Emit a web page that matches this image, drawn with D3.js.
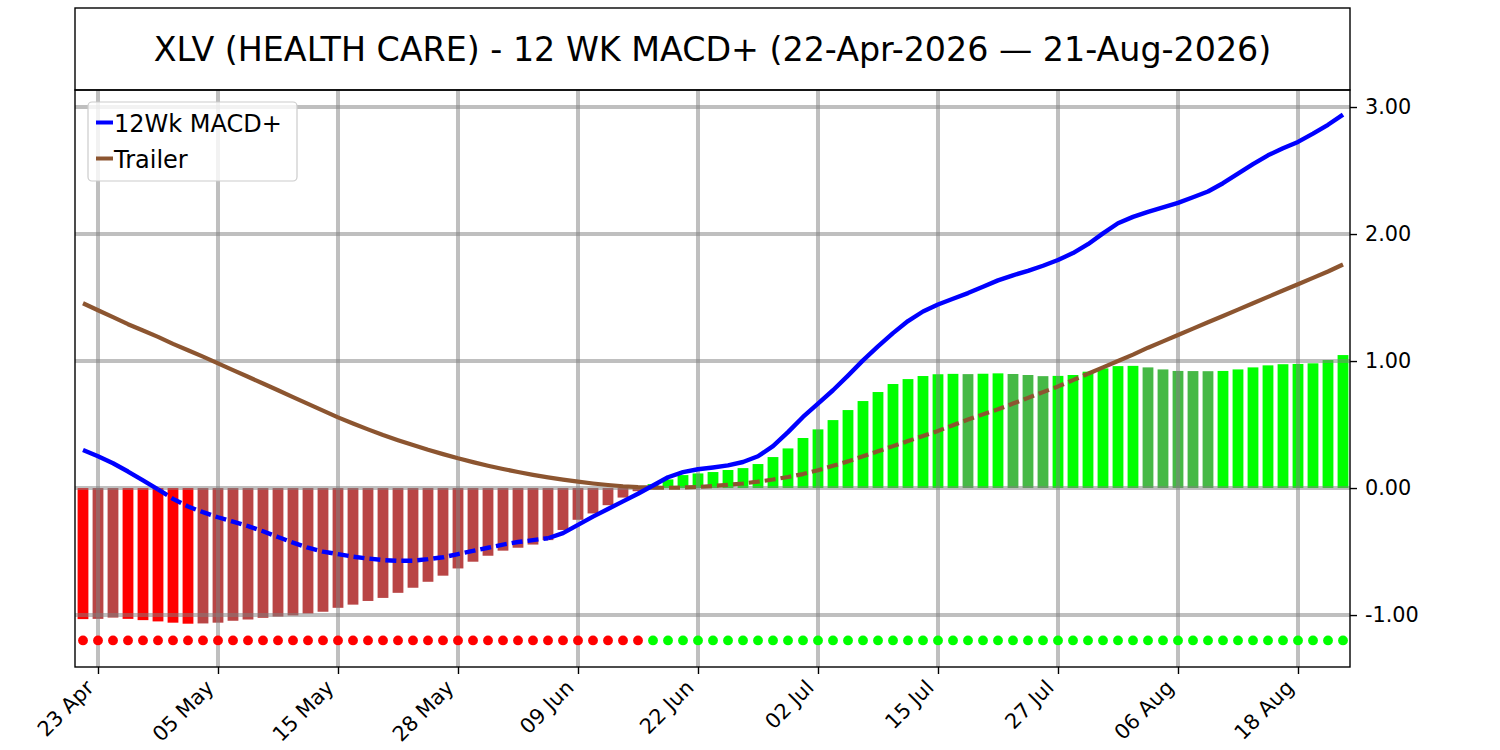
<!DOCTYPE html>
<html>
<head>
<meta charset="utf-8">
<script src="https://cdn.jsdelivr.net/npm/d3@7/dist/d3.min.js"></script>
<style>
  html, body { margin: 0; padding: 0; background: #ffffff; }
  svg { display: block; font-family: "DejaVu Sans", sans-serif; }
</style>
</head>
<body>
<svg id="chart" width="1500" height="750"></svg>
<script>
// ---------------- DATA ----------------
const chartTitle = "XLV (HEALTH CARE) - 12 WK MACD+ (22-Apr-2026 \u2014 21-Aug-2026)";

const dates = [
  "2026-04-22","2026-04-23","2026-04-24","2026-04-27","2026-04-28","2026-04-29","2026-04-30",
  "2026-05-01","2026-05-04","2026-05-05","2026-05-06","2026-05-07","2026-05-08","2026-05-11",
  "2026-05-12","2026-05-13","2026-05-14","2026-05-15","2026-05-18","2026-05-19","2026-05-20",
  "2026-05-21","2026-05-22","2026-05-26","2026-05-27","2026-05-28","2026-05-29",
  "2026-06-01","2026-06-02","2026-06-03","2026-06-04","2026-06-05","2026-06-08","2026-06-09",
  "2026-06-10","2026-06-11","2026-06-12","2026-06-15","2026-06-16","2026-06-17","2026-06-18",
  "2026-06-22","2026-06-23","2026-06-24","2026-06-25","2026-06-26","2026-06-29","2026-06-30",
  "2026-07-01","2026-07-02","2026-07-06","2026-07-07","2026-07-08","2026-07-09","2026-07-10",
  "2026-07-13","2026-07-14","2026-07-15","2026-07-16","2026-07-17","2026-07-20","2026-07-21",
  "2026-07-22","2026-07-23","2026-07-24","2026-07-27","2026-07-28","2026-07-29","2026-07-30",
  "2026-07-31","2026-08-03","2026-08-04","2026-08-05","2026-08-06","2026-08-07","2026-08-10",
  "2026-08-11","2026-08-12","2026-08-13","2026-08-14","2026-08-17","2026-08-18","2026-08-19",
  "2026-08-20","2026-08-21"
];

const macd = [
  0.30, 0.25, 0.195, 0.13, 0.06, -0.01, -0.085, -0.145, -0.19, -0.23,
  -0.265, -0.30, -0.34, -0.385, -0.43, -0.47, -0.50, -0.52, -0.54, -0.555,
  -0.567, -0.573, -0.572, -0.56, -0.545, -0.52, -0.495, -0.47, -0.445, -0.425,
  -0.41, -0.395, -0.355, -0.29, -0.225, -0.165, -0.105, -0.045, 0.02, 0.085,
  0.125, 0.148, 0.162, 0.178, 0.205, 0.25, 0.33, 0.44, 0.56, 0.665,
  0.77, 0.885, 1.005, 1.115, 1.22, 1.315, 1.39, 1.445, 1.49, 1.535,
  1.585, 1.635, 1.675, 1.71, 1.75, 1.795, 1.85, 1.92, 2.005, 2.085,
  2.135, 2.175, 2.21, 2.245, 2.29, 2.335, 2.40, 2.475, 2.55, 2.62,
  2.675, 2.725, 2.79, 2.86, 2.94
];

const trailer = [
  1.455, 1.40, 1.345, 1.29, 1.24, 1.19, 1.135, 1.085, 1.035, 0.982,
  0.929, 0.876, 0.823, 0.77, 0.716, 0.663, 0.61, 0.556, 0.508, 0.462,
  0.418, 0.377, 0.338, 0.301, 0.267, 0.234, 0.204, 0.176, 0.15, 0.126,
  0.104, 0.084, 0.066, 0.05, 0.036, 0.024, 0.014, 0.007, 0.003, 0.002,
  0.004, 0.009, 0.016, 0.025, 0.036, 0.05, 0.067, 0.087, 0.11, 0.14,
  0.175, 0.21, 0.25, 0.29, 0.33, 0.37, 0.41, 0.45, 0.495, 0.54,
  0.58, 0.62, 0.665, 0.71, 0.755, 0.80, 0.85, 0.90, 0.95, 1.0,
  1.05, 1.105, 1.155, 1.205, 1.255, 1.305, 1.355, 1.405, 1.455, 1.505,
  1.555, 1.605, 1.655, 1.705, 1.76
];

const histogram = [
  -1.032, -1.03, -1.02, -1.03, -1.04, -1.05, -1.06, -1.068, -1.066, -1.06,
  -1.045, -1.035, -1.022, -1.012, -1.003, -0.988, -0.974, -0.943, -0.918, -0.889,
  -0.865, -0.825, -0.785, -0.738, -0.69, -0.633, -0.58, -0.533, -0.493, -0.47,
  -0.445, -0.41, -0.33, -0.25, -0.20, -0.135, -0.075, -0.025, 0.031, 0.068,
  0.102, 0.115, 0.126, 0.142, 0.157, 0.189, 0.244, 0.312, 0.394, 0.462,
  0.535, 0.614, 0.685, 0.756, 0.819, 0.858, 0.882, 0.896, 0.899, 0.897,
  0.900, 0.903, 0.898, 0.890, 0.881, 0.883, 0.890, 0.916, 0.942, 0.960,
  0.962, 0.950, 0.934, 0.922, 0.921, 0.920, 0.922, 0.934, 0.950, 0.966,
  0.975, 0.977, 0.982, 1.008, 1.047
];

const tickDates = ["2026-04-23","2026-05-05","2026-05-15","2026-05-28","2026-06-09",
                   "2026-06-22","2026-07-02","2026-07-15","2026-07-27","2026-08-06","2026-08-18"];
const yTicks = [-1, 0, 1, 2, 3];
const signalLevel = -1.2;
const seriesNames = ["12Wk MACD+", "Trailer"];

// ---------------- STYLE ----------------
const C = {
  macd: "#0000ff", trailer: "#8c5530",
  redStrong: "#ff0000", redWeak: "#b94545",
  greenStrong: "#00ff00", greenWeak: "#46b946",
  grid: "#808080"
};

const plot = { left: 75, right: 1350, top: 90, bottom: 667 };
const titleTop = 8;
const tickFont = 20.8;

const svg = d3.select("#chart");

const x = d3.scaleLinear().domain([-0.533, dates.length - 1 + 0.467]).range([plot.left, plot.right]);
const y = d3.scaleLinear().domain([-1.409, 3.134]).range([plot.bottom, plot.top]);

const parse = d3.timeParse("%Y-%m-%d");
const fmt = d3.timeFormat("%d %b");
const tickIdx = tickDates.map(d => dates.indexOf(d));

svg.append("defs").append("clipPath").attr("id", "plotclip")
  .append("rect").attr("x", plot.left).attr("y", plot.top)
  .attr("width", plot.right - plot.left).attr("height", plot.bottom - plot.top);

const g = svg.append("g").attr("clip-path", "url(#plotclip)");

// ---------------- BARS ----------------
const barW = (x(1) - x(0)) * 0.72;
function barColor(v, i) {
  const prev = i > 0 ? histogram[i - 1] : null;
  if (v >= 0) return (prev !== null && v < prev) ? C.greenWeak : C.greenStrong;
  return (prev === null || v < prev) ? C.redStrong : C.redWeak;
}
g.append("g").selectAll("rect").data(histogram).join("rect")
  .attr("x", (d, i) => x(i) - barW / 2)
  .attr("width", barW)
  .attr("y", d => y(Math.max(0, d)))
  .attr("height", d => Math.abs(y(d) - y(0)))
  .attr("fill", (d, i) => barColor(d, i));

// ---------------- GRID ----------------
const grid = g.append("g").attr("stroke", C.grid).attr("stroke-opacity", 0.5).attr("stroke-width", 4);
grid.selectAll("line.v").data(tickIdx).join("line").attr("class", "v")
  .attr("x1", d => x(d)).attr("x2", d => x(d)).attr("y1", plot.top).attr("y2", plot.bottom);
grid.selectAll("line.h").data(yTicks).join("line").attr("class", "h")
  .attr("x1", plot.left).attr("x2", plot.right).attr("y1", d => y(d)).attr("y2", d => y(d));

// ---------------- LINES (dashed where they run inside the histogram bars) ----------------
function inside(v, i) {
  const h = histogram[i];
  return h >= 0 ? (v > 0 && v < h) : (v < 0 && v > h);
}
function drawSeries(values, color, width) {
  const line = d3.line().x(d => x(d)).y(d => y(values[d]));
  const runs = [];
  for (let i = 0; i < values.length - 1; i++) {
    const dashed = inside(values[i], i) && inside(values[i + 1], i + 1);
    const last = runs[runs.length - 1];
    if (last && last.dashed === dashed) last.idx.push(i + 1);
    else runs.push({ dashed, idx: [i, i + 1] });
  }
  runs.forEach(r => {
    g.append("path").attr("d", line(r.idx))
      .attr("fill", "none").attr("stroke", color).attr("stroke-width", width)
      .attr("stroke-dasharray", r.dashed ? "11,5" : null)
      .attr("stroke-linejoin", "round");
  });
}
drawSeries(trailer, C.trailer, 4.2);
drawSeries(macd, C.macd, 4.4);

// ---------------- SIGNAL DOTS ----------------
g.append("g").selectAll("circle").data(macd).join("circle")
  .attr("cx", (d, i) => x(i)).attr("cy", y(signalLevel)).attr("r", 4.9)
  .attr("fill", (d, i) => d >= trailer[i] ? C.greenStrong : C.redStrong);

// ---------------- AXES ----------------
const axR = svg.append("g").attr("transform", `translate(${plot.right},0)`)
  .call(d3.axisRight(y).tickValues(yTicks)
    .tickFormat(d => d3.format(".2f")(d).replace("\u2212", "-"))
    .tickSize(7).tickPadding(8));
axR.select(".domain").remove();
axR.selectAll(".tick line").attr("stroke", "#000").attr("stroke-width", 1.4);
axR.selectAll(".tick text").attr("font-size", tickFont).attr("font-family", "DejaVu Sans").attr("fill", "#000");

const axB = svg.append("g").attr("transform", `translate(0,${plot.bottom})`)
  .call(d3.axisBottom(x).tickValues(tickIdx).tickFormat("").tickSize(7));
axB.select(".domain").remove();
axB.selectAll(".tick line").attr("stroke", "#000").attr("stroke-width", 1.4);

svg.append("g").selectAll("text").data(tickIdx).join("text")
  .attr("transform", d => `translate(${x(d) - 3},${plot.bottom + 22}) rotate(-45)`)
  .attr("text-anchor", "end")
  .attr("font-size", tickFont)
  .attr("fill", "#000")
  .text(d => fmt(parse(dates[d])));

// spines
svg.append("rect").attr("x", plot.left).attr("y", plot.top)
  .attr("width", plot.right - plot.left).attr("height", plot.bottom - plot.top)
  .attr("fill", "none").attr("stroke", "#000").attr("stroke-width", 1.4);

// title box
svg.append("rect").attr("x", plot.left).attr("y", titleTop)
  .attr("width", plot.right - plot.left).attr("height", plot.top - titleTop)
  .attr("fill", "none").attr("stroke", "#000").attr("stroke-width", 1.4);
svg.append("text").attr("x", (plot.left + plot.right) / 2).attr("y", 61)
  .attr("text-anchor", "middle").attr("font-size", 33.3).attr("fill", "#000")
  .text(chartTitle);

// ---------------- LEGEND ----------------
const lg = svg.append("g");
lg.append("rect").attr("x", 88).attr("y", 102).attr("width", 209).attr("height", 79)
  .attr("rx", 4).attr("fill", "#ffffff").attr("fill-opacity", 0.8)
  .attr("stroke", "#cccccc").attr("stroke-width", 1.2);
const legendColors = [C.macd, C.trailer];
seriesNames.forEach((name, i) => {
  const cy = 122.5 + i * 36;
  lg.append("line").attr("x1", 96).attr("x2", 113).attr("y1", cy).attr("y2", cy)
    .attr("stroke", legendColors[i]).attr("stroke-width", 4);
  lg.append("text").attr("x", 114).attr("y", cy + 9)
    .attr("font-size", 24).attr("fill", "#000").text(name);
});
</script>
</body>
</html>
